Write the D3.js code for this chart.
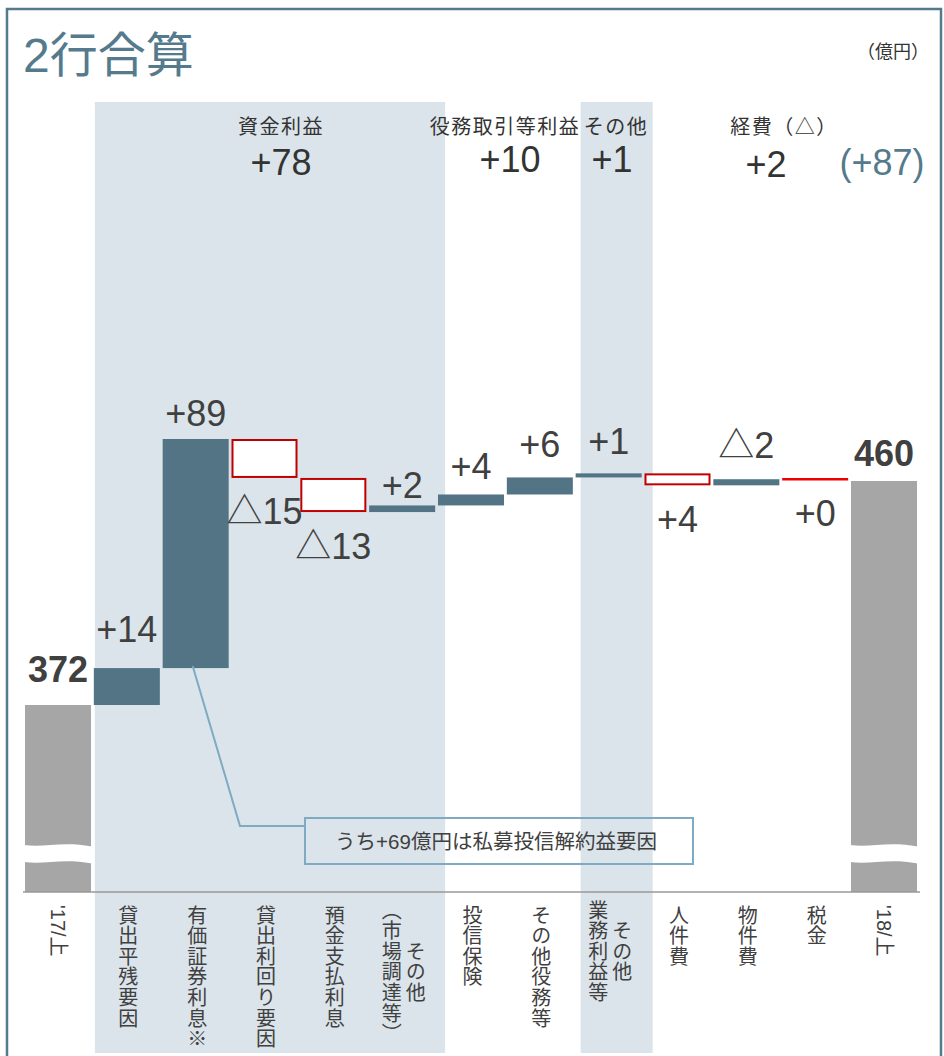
<!DOCTYPE html>
<html><head><meta charset="utf-8">
<script src="https://cdn.jsdelivr.net/npm/d3@7"></script>
<style>
html,body{margin:0;padding:0;background:#fff;}
svg{display:block;font-family:"Liberation Sans","Noto Sans CJK JP",sans-serif;}
</style></head><body>
<svg id="chart" width="944" height="1056"></svg>
<script>
// ---------------- data ----------------
const categories = ["'17/上","貸出平残要因","有価証券利息※","貸出利回り要因","預金支払利息","その他|（市場調達等）","投信保険","その他役務等","その他|業務利益等","人件費","物件費","税金","'18/上"];
const startTotal = 372;
const endTotal = 460;
const deltas = [14.5, 90, -15.3, -13.4, 2.6, 4.3, 6.7, 1.6, -4.7, 2.4, 0];
const valueLabels = ["372","+14","+89","△15","△13","+2","+4","+6","+1","+4","△2","+0","460"];
const groupNames = ["資金利益","役務取引等利益","その他","経費（△）"];
const groupValues = ["+78","+10","+1","+2"];
const totalChange = "(+87)";
const unitLabel = "（億円）";
const titleText = "2行合算";
const noteText = "うち+69億円は私募投信解約益要因";

// ---------------- layout ----------------
const labelGap = [23,26,13,46,47,7,15,20,19,47,21,47,15];
const headerX = [281,505,616,784];
const headerValX = [281,510,612,766];
const headerValY = [175,172,172,177];

const svg = d3.select("#chart");
const x = d3.scaleBand().domain(d3.range(categories.length)).range([25,917]).paddingInner(0.041).paddingOuter(0);
const bw = x.bandwidth();
const xc = i => x(i) + bw/2;
const y = d3.scaleLinear().domain([startTotal, endTotal]).range([705, 481]);
const axisY = 892;
const baseVal = y.invert(axisY);

const C = {frame:"#557a8c", band:"#dbe4ea", bar:"#527485", gray:"#a6a6a6", red:"#c00000", text:"#404040", lead:"#7eaac2"};

// shaded group bands
const bands = [[x(1)+1, x(5)+bw+10],[x(8)+5, x(8)+bw+11]];
svg.selectAll("rect.band").data(bands).join("rect").attr("class","band")
  .attr("x",d=>d[0]).attr("width",d=>d[1]-d[0]).attr("y",102).attr("height",951).attr("fill",C.band);

// frame
svg.append("path").attr("d","M7,1060V9H941V1060").attr("fill","none").attr("stroke",C.frame).attr("stroke-width",2.5);

// title
svg.append("text").attr("x",23).attr("y",72).attr("font-size",48).attr("fill",C.frame).text(titleText);
svg.append("text").attr("x",929).attr("y",58).attr("text-anchor","end").attr("font-size",18).attr("fill","#333").text(unitLabel);

// group headers
svg.selectAll("text.gname").data(groupNames).join("text").attr("class","gname")
  .attr("x",(d,i)=>headerX[i]).attr("y",134).attr("text-anchor","middle").attr("font-size",20).attr("letter-spacing",1.5)
  .attr("fill","#333").text(d=>d);
svg.selectAll("text.gval").data(groupValues).join("text").attr("class","gval")
  .attr("x",(d,i)=>headerValX[i]).attr("y",(d,i)=>headerValY[i]).attr("text-anchor","middle").attr("font-size",36)
  .attr("fill","#333").text(d=>d);
svg.append("text").attr("x",882).attr("y",175).attr("text-anchor","middle").attr("font-size",36).attr("fill",C.frame).text(totalChange);

// build waterfall
const bars = [];
let run = startTotal;
bars.push({i:0, type:"total", lo:baseVal, hi:startTotal});
deltas.forEach((d,k)=>{
  const a = run, b = run + d; run = b;
  bars.push({i:k+1, type: d>0 ? "up" : (d<0 ? "down" : "zero"), lo:Math.min(a,b), hi:Math.max(a,b)});
});
bars.push({i:categories.length-1, type:"total", lo:baseVal, hi:endTotal});

const g = svg.append("g");
bars.forEach(b=>{
  if (b.type==="zero") {
    g.append("line").attr("x1",x(b.i)).attr("x2",x(b.i)+bw).attr("y1",y(b.hi)).attr("y2",y(b.hi))
      .attr("stroke","#ee0000").attr("stroke-width",2.5);
  } else if (b.type==="down") {
    g.append("rect").attr("x",x(b.i)+1).attr("width",bw-2).attr("y",y(b.hi)+1).attr("height",y(b.lo)-y(b.hi)-2)
      .attr("fill","#fff").attr("stroke",C.red).attr("stroke-width",2);
  } else {
    g.append("rect").attr("x",x(b.i)).attr("width",bw).attr("y",y(b.hi)).attr("height",y(b.lo)-y(b.hi))
      .attr("fill", b.type==="total" ? C.gray : C.bar);
  }
});

// breaks on total bars
bars.filter(b=>b.type==="total").forEach(b=>{
  const x0 = x(b.i)-1, x1 = x(b.i)+bw+1, w = x1-x0;
  const t = 845, h = 17;
  const p = `M${x0},${t} C${x0+w*0.3},${t+3} ${x0+w*0.55},${t-4} ${x1},${t+1.5} L${x1},${t+h+1.5} C${x0+w*0.55},${t+h-4} ${x0+w*0.3},${t+h+3} ${x0},${t+h} Z`;
  g.append("path").attr("d",p).attr("fill","#fff");
});

// value labels
svg.selectAll("text.vlab").data(bars).join("text").attr("class","vlab")
  .attr("x",d=>xc(d.i)).attr("text-anchor","middle")
  .attr("y",(d,k)=> (d.type==="down" || d.type==="zero") ? y(d.lo)+labelGap[k] : y(d.hi)-labelGap[k])
  .attr("font-size",36).attr("font-weight",d=>d.type==="total"?"bold":"normal")
  .attr("fill",C.text).text((d,k)=>valueLabels[k]);

// axis line
svg.append("line").attr("x1",23).attr("x2",920).attr("y1",axisY).attr("y2",axisY).attr("stroke","#999").attr("stroke-width",1.5);

// category labels
categories.forEach((c,i)=>{
  if (c.startsWith("'")) {
    svg.append("text").attr("transform",`translate(${xc(i)},905) rotate(90)`)
      .attr("dominant-baseline","central").attr("font-size",20).attr("fill",C.text).text(c);
    return;
  }
  const lines = c.split("|");
  if (lines.length===1) {
    svg.append("text").attr("x",xc(i)).attr("y",905).style("writing-mode","vertical-rl")
      .attr("font-size",20).attr("letter-spacing",0.6).attr("fill",C.text).text(c);
  } else {
    const maxLen = d3.max(lines, l=>l.length);
    const cy = 905 + maxLen*20.6/2 - 5;
    lines.forEach((l,j)=>{
      svg.append("text").attr("x",xc(i)+12-j*24).attr("y",cy).attr("text-anchor","middle").style("writing-mode","vertical-rl")
        .attr("font-size",20).attr("letter-spacing",0.6).attr("fill",C.text).text(l);
    });
  }
});

// annotation
const b2 = bars[2];
svg.append("polyline").attr("points",`${xc(2)-3},${y(b2.lo)-2} 240,826 305,826`)
  .attr("fill","none").attr("stroke",C.lead).attr("stroke-width",2);
svg.append("rect").attr("x",305).attr("y",818).attr("width",388).attr("height",46)
  .attr("fill","none").attr("stroke",C.lead).attr("stroke-width",2);
svg.append("text").attr("x",496).attr("y",849).attr("text-anchor","middle").attr("font-size",20.5).attr("fill",C.text).text(noteText);
</script>
</body></html>
